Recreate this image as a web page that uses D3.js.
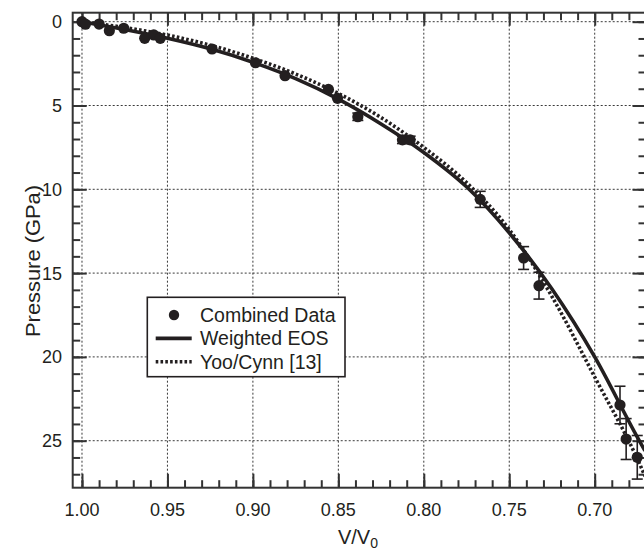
<!DOCTYPE html>
<html>
<head>
<meta charset="utf-8">
<script src="https://cdn.jsdelivr.net/npm/d3@7"></script>
<style>
  body { margin: 0; background: #fff; }
  svg { display: block; }
  text { font-family: "Liberation Sans", Arial, Helvetica, sans-serif; fill: #231f20; }
</style>
</head>
<body>
<svg id="chart" width="644" height="550"></svg>
<script>
// Combined compression data: relative volume, pressure (GPa) and 1-sigma error
const volumeRatio = [1.000, 0.998, 0.990, 0.984, 0.9756, 0.9633, 0.958, 0.9542, 0.9239, 0.8985,
                     0.8812, 0.8558, 0.8505, 0.8386, 0.8125, 0.8080, 0.767, 0.7416, 0.7326,
                     0.6852, 0.6816, 0.6751];
const pressure    = [0.00, 0.15, 0.14, 0.54, 0.39, 0.99, 0.79, 0.99, 1.63, 2.45,
                     3.22, 4.04, 4.57, 5.67, 7.05, 7.05, 10.60, 14.10, 15.75,
                     22.87, 24.90, 25.99];
const pressureErr = [0, 0, 0, 0, 0, 0, 0, 0, 0, 0,
                     0, 0, 0, 0.22, 0.22, 0.22, 0.48, 0.68, 0.80,
                     1.12, 1.22, 1.30];

// Equation-of-state curves sampled along V/V0
const eosV      = [1.000, 0.975, 0.950, 0.925, 0.900, 0.875, 0.850, 0.825, 0.800, 0.775, 0.750, 0.725, 0.700, 0.675, 0.6706];
const weightedP = [0.00, 0.47, 0.99, 1.62, 2.42, 3.40, 4.62, 6.10, 7.80, 9.85, 12.60, 15.95, 20.00, 24.80, 25.60];
const yooCynnP  = [0.00, 0.35, 0.80, 1.40, 2.18, 3.12, 4.28, 5.72, 7.50, 9.60, 12.40, 16.40, 21.20, 26.10, 27.10];

const xTickValues = [1.00, 0.95, 0.90, 0.85, 0.80, 0.75, 0.70];
const xMinorTicks = d3.range(100, 67, -1).map(d => d / 100);
const yTickValues = [0, 5, 10, 15, 20, 25];
const yMinorTicks = d3.range(0, 28);
const legendLabels = ["Combined Data", "Weighted EOS", "Yoo/Cynn [13]"];

const ink = "#231f20";
const dotted = "2.6,2.2";
const plot = { left: 72.7, right: 645, top: 12.7, bottom: 487.7 };

const svg = d3.select("#chart");

const x = d3.scaleLinear().domain([1.00544, 0.67057]).range([plot.left, plot.right]);
const y = d3.scaleLinear().domain([-0.537, 27.804]).range([plot.top, plot.bottom]);

// dashed grid at major ticks
const grid = svg.append("g").attr("stroke", "#3a3a3a").attr("stroke-width", 1)
  .attr("stroke-dasharray", "2,2");
grid.selectAll(".gx").data(xTickValues).join("line")
  .attr("x1", d => x(d)).attr("x2", d => x(d))
  .attr("y1", plot.top).attr("y2", plot.bottom);
grid.selectAll(".gy").data(yTickValues).join("line")
  .attr("x1", plot.left).attr("x2", plot.right)
  .attr("y1", d => y(d)).attr("y2", d => y(d));

// inward ticks on all four sides
function tickAxis(axis, transform) {
  const g = svg.append("g").attr("transform", transform).call(axis);
  g.select(".domain").remove();
  g.selectAll(".tick line").attr("stroke", "#333").attr("stroke-width", 2);
  return g;
}
tickAxis(d3.axisBottom(x).tickValues(xMinorTicks).tickSize(-7.5).tickFormat(""), `translate(0,${plot.bottom})`);
tickAxis(d3.axisBottom(x).tickValues(xTickValues).tickSize(-14).tickFormat(""), `translate(0,${plot.bottom})`);
tickAxis(d3.axisTop(x).tickValues(xMinorTicks).tickSize(-7.5).tickFormat(""), `translate(0,${plot.top})`);
tickAxis(d3.axisTop(x).tickValues(xTickValues).tickSize(-13).tickFormat(""), `translate(0,${plot.top})`);
tickAxis(d3.axisLeft(y).tickValues(yMinorTicks).tickSize(-7.5).tickFormat(""), `translate(${plot.left},0)`);
tickAxis(d3.axisLeft(y).tickValues(yTickValues).tickSize(-14).tickFormat(""), `translate(${plot.left},0)`);
tickAxis(d3.axisRight(y).tickValues(yMinorTicks).tickSize(-6.5).tickFormat(""), `translate(${plot.right},0)`);
tickAxis(d3.axisRight(y).tickValues(yTickValues).tickSize(-12.5).tickFormat(""), `translate(${plot.right},0)`);

// frame
svg.append("rect")
  .attr("x", plot.left).attr("y", plot.top)
  .attr("width", plot.right - plot.left).attr("height", plot.bottom - plot.top)
  .attr("fill", "none").attr("stroke", "#333").attr("stroke-width", 2);

// tick labels
svg.append("g").selectAll("text").data(xTickValues).join("text")
  .attr("x", d => x(d)).attr("y", 515.5)
  .attr("text-anchor", "middle").attr("font-size", 18)
  .text(d3.format(".2f"));
svg.append("g").selectAll("text").data(yTickValues).join("text")
  .attr("x", 62).attr("y", d => y(d)).attr("dy", "0.36em")
  .attr("text-anchor", "end").attr("font-size", 18)
  .text(d => d);

// axis titles
const xTitle = svg.append("text").attr("x", 358).attr("y", 543.5)
  .attr("text-anchor", "middle").attr("font-size", 20);
xTitle.append("tspan").text("V/V");
xTitle.append("tspan").attr("font-size", 14).attr("dy", 4).text("0");

svg.append("text")
  .attr("transform", "translate(40,261) rotate(-90)")
  .attr("text-anchor", "middle").attr("font-size", 19.5)
  .attr("textLength", 152).attr("lengthAdjust", "spacingAndGlyphs")
  .text("Pressure (GPa)");

// curves, clipped to the plot area
svg.append("clipPath").attr("id", "plotClip").append("rect")
  .attr("x", plot.left).attr("y", plot.top)
  .attr("width", plot.right - plot.left).attr("height", plot.bottom - plot.top);

const line = d3.line().curve(d3.curveMonotoneX)
  .x(d => x(d[0])).y(d => y(d[1]));

const curves = svg.append("g").attr("clip-path", "url(#plotClip)");
curves.append("path")
  .datum(d3.zip(eosV, yooCynnP))
  .attr("d", line).attr("fill", "none").attr("stroke", ink)
  .attr("stroke-width", 3.6).attr("stroke-dasharray", dotted);
curves.append("path")
  .datum(d3.zip(eosV, weightedP))
  .attr("d", line).attr("fill", "none").attr("stroke", ink)
  .attr("stroke-width", 3.6);

// data with error bars
const pts = d3.zip(volumeRatio, pressure, pressureErr);
const eb = svg.append("g").attr("stroke", ink).attr("stroke-width", 1.6);
const withErr = pts.filter(d => d[2] > 0);
eb.selectAll(".v").data(withErr).join("line")
  .attr("x1", d => x(d[0])).attr("x2", d => x(d[0]))
  .attr("y1", d => y(d[1] - d[2])).attr("y2", d => y(d[1] + d[2]));
eb.selectAll(".t").data(withErr.flatMap(d => [[d[0], d[1] - d[2]], [d[0], d[1] + d[2]]])).join("line")
  .attr("x1", d => x(d[0]) - 5.5).attr("x2", d => x(d[0]) + 5.5)
  .attr("y1", d => y(d[1])).attr("y2", d => y(d[1]));

svg.append("g").selectAll("circle").data(pts).join("circle")
  .attr("cx", d => x(d[0])).attr("cy", d => y(d[1]))
  .attr("r", 5.6).attr("fill", ink);

// legend
const lg = svg.append("g");
lg.append("rect").attr("x", 147.3).attr("y", 297.3).attr("width", 197.7).attr("height", 79.4)
  .attr("fill", "#fff").attr("stroke", ink).attr("stroke-width", 1.6);
const rowY = [315, 338.4, 361.8];
lg.append("circle").attr("cx", 174).attr("cy", rowY[0]).attr("r", 5.2).attr("fill", ink);
lg.append("line").attr("x1", 155.7).attr("x2", 191.7).attr("y1", rowY[1]).attr("y2", rowY[1])
  .attr("stroke", ink).attr("stroke-width", 3.6);
lg.append("line").attr("x1", 155.7).attr("x2", 191.7).attr("y1", rowY[2]).attr("y2", rowY[2])
  .attr("stroke", ink).attr("stroke-width", 3.4).attr("stroke-dasharray", dotted);
lg.selectAll("text").data(legendLabels).join("text")
  .attr("x", 200).attr("y", (d, i) => rowY[i]).attr("dy", "0.36em")
  .attr("font-size", 19.5).text(d => d);
</script>
</body>
</html>
